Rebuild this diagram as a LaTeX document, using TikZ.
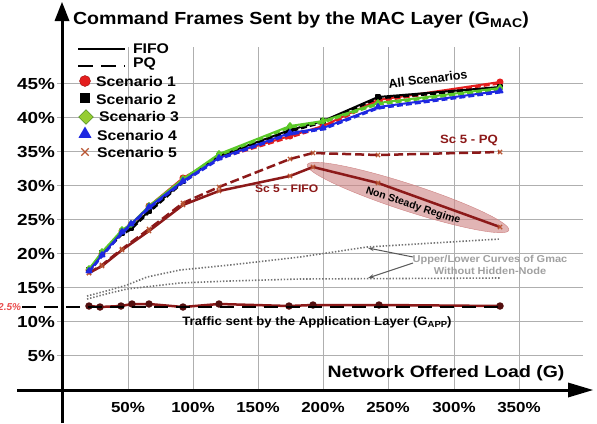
\documentclass[tikz,border=0pt]{standalone}
\usepackage{fontspec}
\setmainfont{Liberation Sans}
\usetikzlibrary{shapes.geometric,shapes.misc,plotmarks,arrows.meta}
\definecolor{sred}{RGB}{228,30,30}
\definecolor{sgreen}{RGB}{90,200,40}
\definecolor{lgreen}{RGB}{150,205,50}
\definecolor{sblue}{RGB}{30,40,225}
\definecolor{dred}{RGB}{140,25,25}
\definecolor{brn}{RGB}{185,85,50}
\definecolor{gridc}{RGB}{175,175,175}
\definecolor{graytxt}{RGB}{160,160,160}
\definecolor{ellc}{RGB}{205,130,130}
\newcommand\fsz[1]{\fontsize{#1}{#1}\selectfont\bfseries}
\newcommand\sbs[1]{\raisebox{-0.3ex}{\scalebox{0.72}{#1}}}
\tikzset{
  txt/.style={inner sep=0pt, outer sep=0pt},
  gridline/.style={draw=gridc, line width=0.9pt},
  axisline/.style={line width=3pt, black},
  curve/.style={line width=2pt, line join=round},
  pqcurve/.style={line width=2pt, dash pattern=on 6pt off 3pt},
  dotcurve/.style={draw=black!55, line width=1.6pt, dash pattern=on 1.4pt off 1.8pt},
}
\begin{document}
\begin{tikzpicture}[x=1pt,y=-1pt]
\useasboundingbox (0,0) rectangle (597,423);
% grid
\foreach \yy in {355,321,287,253,219,185,151,117,83}
  \draw[gridline] (57,\yy) -- (583,\yy);
\foreach \xx in {128,193,258,323,388,454,519}
  \draw[gridline] (\xx,47) -- (\xx,390);
% axes
\coordinate (ybot) at (62,423);
\coordinate (ytop) at (62,18);
\coordinate (xl) at (17,390);
\coordinate (xr) at (570,390);
\draw[axisline] (ybot) -- (ytop);
\fill (62,2) -- (54.5,21) -- (69.5,21) -- cycle;
\draw[axisline] (xl) -- (xr);
\fill (593,390) -- (568,382.5) -- (568,397.5) -- cycle;
% title
\node[txt, anchor=west, xscale=1.12] (title) at (73,20) {\fsz{17.5}Command Frames Sent by the MAC Layer (G\sbs{MAC})};
% y labels
\foreach \yy/\lab in {355/5,321/10,287/15,253/20,219/25,185/30,151/35,117/40,83/45}
  \node[txt, anchor=east, xscale=1.18] (y\lab) at (55,\yy+1) {\fsz{16}\lab\%};
% x labels
\foreach \xx/\lab in {128/50,193/100,258/150,323/200,388/250,454/300,519/350}
  \node[txt, xscale=1.17] (x\lab) at (\xx,408) {\fsz{14.5}\lab\%};
\node[txt, xscale=1.18] (xlab) at (446,373) {\fsz{16.5}Network Offered Load (G)};
% 12.5% marker
\node[txt, anchor=east, text=sred!80] (lev) at (21,307) {\fsz{10}\itshape 12.5\%};
% gray dotted curves
\draw[dotcurve] plot coordinates {(87,296)(110,290)(127,285)(147,277)(180,270)(230,265)(300,257)(367,247)(500,239)};
\draw[dotcurve] plot coordinates {(87,299)(110,293)(127,289)(180,283)(230,281)(300,279)(500,278)};
% GAPP curve
\draw[line width=2.5pt, dred, mark=*, mark size=2.4pt, mark options={draw=dred!60!black, fill=dred!60!black}] plot coordinates {(89,306)(100,307)(121,306)(132,304)(149,304)(183,307)(219,304)(289,306)(313,305)(379,305)(500,306)};
\draw[line width=2pt, black, dash pattern=on 14pt off 8pt] (22,307) -- (500,307);
% non steady ellipse
\node[ellipse, fill=ellc, fill opacity=0.6, draw=ellc, minimum width=212pt, minimum height=27pt, rotate=-18, inner sep=0pt] (ell) at (408,197.5) {};
% Sc 5 curves
\draw[pqcurve, dred, line width=2.5pt, dash pattern=on 9pt off 4pt, mark=x, mark size=3pt, mark options={solid, brn, line width=1.2pt}] plot coordinates {(89,273)(102,265)(122,249)(149,229)(183,203)(219,187)(290,159)(313,153)(378,155)(500,152)};
\draw[curve, dred, line width=2.5pt, mark=x, mark size=3pt, mark options={brn, line width=1.2pt}] plot coordinates {(89,273)(102,266)(122,250)(149,231)(183,205)(219,191)(290,176)(313,167)(378,183)(500,227)};
% scenario curves
\draw[pqcurve, sred, yshift=-1.5pt] plot coordinates {(89,270)(102,254)(122,231)(131,225)(149,206)(183,178)(219,157)(290,136)(323,126)(378,100)(500,82)};
\draw[curve, sred, mark=*, mark size=2.5pt] plot coordinates {(89,270)(102,254)(122,231)(131,225)(149,206)(183,178)(219,157)(290,136)(323,126)(378,100)(500,82)};
\draw[pqcurve, black, yshift=-1.5pt] plot coordinates {(89,270)(102,253)(122,233)(131,228)(149,211)(183,181)(219,156)(290,130)(323,121)(378,97)(500,87)};
\draw[curve, black, mark=square*, mark size=2.3pt] plot coordinates {(89,270)(102,253)(122,233)(131,228)(149,211)(183,181)(219,156)(290,130)(323,121)(378,97)(500,87)};
\draw[pqcurve, sgreen, yshift=-1.5pt] plot coordinates {(89,269)(102,252)(122,230)(131,224)(149,206)(183,179)(219,154)(290,126)(323,121)(378,103)(500,88)};
\draw[curve, sgreen, mark=diamond*, mark size=2.8pt, mark options={fill=lgreen}] plot coordinates {(89,269)(102,252)(122,230)(131,224)(149,206)(183,179)(219,154)(290,126)(323,121)(378,103)(500,88)};
\draw[pqcurve, sblue, yshift=-1.5pt] plot coordinates {(89,271)(102,255)(122,232)(131,224)(149,207)(183,181)(219,158)(290,133)(323,128)(378,107)(500,91)};
\draw[curve, sblue, mark=triangle*, mark size=2.8pt] plot coordinates {(89,271)(102,255)(122,232)(131,224)(149,207)(183,181)(219,158)(290,133)(323,128)(378,107)(500,91)};
% labels
\node[txt, rotate=7] (alls) at (428,79) {\fsz{12.5}All Scenarios};
\node[txt, text=dred, xscale=1.1] (scpq) at (469,140) {\fsz{12}Sc 5 - PQ};
\node[txt, text=dred, anchor=west, xscale=1.1] (scfifo) at (255,189) {\fsz{11}Sc 5 - FIFO};
\node[txt, rotate=-18] (nsr) at (413,206) {\fsz{10.5}Non Steady Regime};
\node[txt, text=graytxt, align=center, xscale=1.1, font=\fsz{10}] (upl) at (490,265) {Upper/Lower Curves of Gmac\\[1.5pt]Without Hidden-Node};
\node[txt, xscale=1.08] (gapp) at (317,322) {\fsz{12.2}Traffic sent by the Application Layer (G\sbs{APP})};
% gray arrows
\coordinate (au) at (368,248);
\coordinate (al) at (368,278);
\coordinate (as1) at (413,257);
\coordinate (as2) at (413,263);
\draw[gray!70!black, line width=1pt, -{Stealth[length=6pt,width=4pt]}] (as1) -- (au);
\draw[gray!70!black, line width=1pt, -{Stealth[length=6pt,width=4pt]}] (as2) -- (al);
% legend
\coordinate (f1) at (78,49); \coordinate (f2) at (125,49);
\coordinate (p1) at (78,66); \coordinate (p2) at (125,66);
\draw[line width=2pt] (f1) -- (f2);
\draw[line width=2.6pt, dash pattern=on 15pt off 8pt] (p1) -- (p2);
\node[txt, anchor=west, xscale=1.13] (lfifo) at (133,49) {\fsz{14}FIFO};
\node[txt, anchor=west, xscale=1.13] (lpq) at (133,64) {\fsz{14}PQ};
\node[circle, fill=sred, draw=sred!70!black, minimum size=11pt, inner sep=0pt] (m1) at (85,81) {};
\node[rectangle, fill=black, minimum size=10.5pt, inner sep=0pt] (m2) at (85,98) {};
\node[diamond, fill=lgreen, draw=sgreen!60!black, minimum size=15pt, inner sep=0pt] (m3) at (86,117) {};
\node[regular polygon, regular polygon sides=3, fill=sblue, minimum size=15pt, inner sep=0pt] (m4) at (85,134) {};
\node[cross out, draw=brn, line width=1.3pt, minimum size=6pt, inner sep=0pt] (m5) at (85,152) {};
\node[txt, anchor=west, xscale=1.13] (l1) at (96,81) {\fsz{14}Scenario 1};
\node[txt, anchor=west, xscale=1.13] (l2) at (96,99) {\fsz{14}Scenario 2};
\node[txt, anchor=west, xscale=1.13] (l3) at (99,117) {\fsz{14}Scenario 3};
\node[txt, anchor=west, xscale=1.13] (l4) at (97,135) {\fsz{14}Scenario 4};
\node[txt, anchor=west, xscale=1.13] (l5) at (97,152) {\fsz{14}Scenario 5};
\end{tikzpicture}
\end{document}
